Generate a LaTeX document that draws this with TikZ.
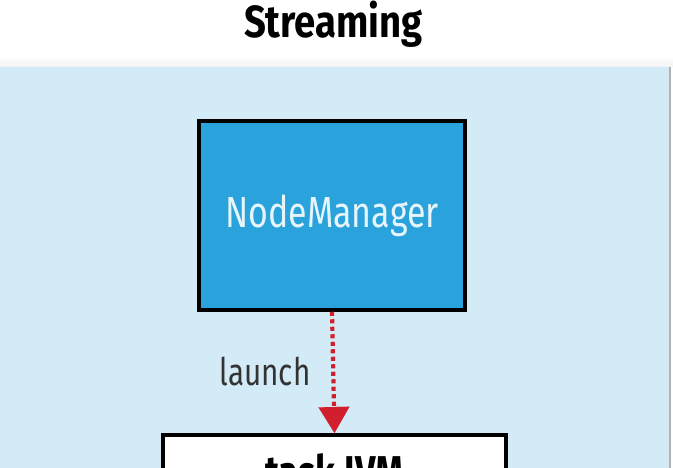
\documentclass[tikz,border=0pt]{standalone}
\usepackage{fontspec}
\setmainfont{Fira Sans}
\newfontfamily\condfont{Fira Sans}[FakeStretch=0.78]
\newfontfamily\titlefam{Fira Sans}[FakeStretch=0.85]
\usetikzlibrary{arrows.meta}
\definecolor{panelblue}{HTML}{D3EBF7}
\definecolor{nmblue}{HTML}{2AA3DC}
\definecolor{arrowred}{HTML}{D21F2E}
\definecolor{nmtext}{HTML}{E6F5FB}
\definecolor{labelgray}{HTML}{333333}
\begin{document}
\begin{tikzpicture}[x=1pt,y=-1pt,
  box/.style={draw=black, line width=3.5pt},
  launcharrow/.style={draw=arrowred, line width=4.2pt, dash pattern=on 4.2pt off 3.3pt,
    -{Triangle[width=31pt,length=26pt,line width=0.1pt,fill=arrowred]}}]
\useasboundingbox (0,0) rectangle (673,468);
\clip (0,0) rectangle (673,468);
\shade[top color=white, bottom color=gray!10] (0,56) rectangle (673,67);
\fill[panelblue] (0,67) rectangle (670,470);
\draw[gray!60, line width=1.2pt] (670,67) -- (670,470);
\node[font=\titlefam\bfseries\fontsize{45}{50}\selectfont, anchor=base, inner sep=0pt] (title) at (333.5,38) {Streaming};
\node[box, fill=nmblue, minimum width=266pt, minimum height=189pt, inner sep=0pt,
  text=nmtext, font=\condfont\fontsize{43.5}{48}\selectfont] (nm) at (332,215.5) {NodeManager};
\node[box, fill=white, anchor=north, minimum width=343pt, text height=33pt, text depth=60pt,
  inner ysep=20.7pt, font=\condfont\bfseries\fontsize{46}{50}\selectfont] (jvm) at (334.5,433) {task JVM};
\draw[launcharrow] (nm.south) -- (jvm.north);
\node[font=\condfont\fontsize{38}{42}\selectfont, text=labelgray, anchor=base, inner sep=0pt] (lbl) at (265,385) {launch};
\end{tikzpicture}
\end{document}
